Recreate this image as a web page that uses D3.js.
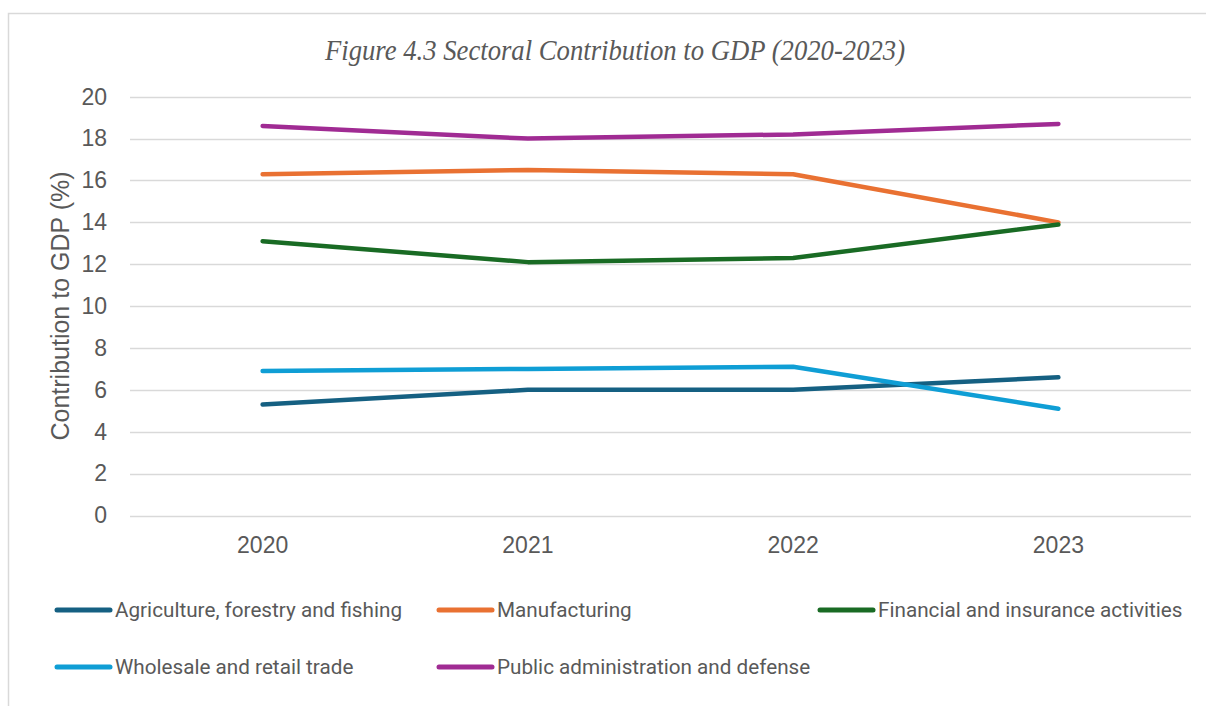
<!DOCTYPE html>
<html>
<meta charset="utf-8">
<title>sectoral contribution</title>
<style>
html,body{margin:0;background:#fff;}
text{fill:#595959;}
</style>
<script src="https://d3js.org/d3.v7.min.js"></script>
<body>
<script>
var years = ["2020", "2021", "2022", "2023"];
var sectors = ["Agriculture, forestry and fishing", "Manufacturing", "Financial and insurance activities",
               "Wholesale and retail trade", "Public administration and defense"];
var colors = ["#156082", "#E97132", "#196B24", "#0F9ED5", "#A02B93"];
var agriculture = [5.3, 6.0, 6.0, 6.6];
var manufacturing = [16.3, 16.5, 16.3, 14.0];
var financial = [13.1, 12.1, 12.3, 13.9];
var wholesale = [6.9, 7.0, 7.1, 5.1];
var publicAdmin = [18.6, 18.0, 18.2, 18.7];
var yTicks = [0, 2, 4, 6, 8, 10, 12, 14, 16, 18, 20];

var series = [agriculture, manufacturing, financial, wholesale, publicAdmin];
var width = 1206, height = 706;

var svg = d3.select("body").append("svg")
    .attr("width", width)
    .attr("height", height);

// chart frame
svg.append("rect")
    .attr("x", 8.5).attr("y", 13.5)
    .attr("width", 1210).attr("height", 710)
    .attr("fill", "none")
    .attr("stroke", "#d9d9d9")
    .attr("stroke-width", 1.5);

var x = d3.scaleBand().domain(years).range([130, 1191]);
var y = d3.scaleLinear().domain([0, 20]).range([515.5, 96.7]);

svg.append("text")
    .attr("transform", "translate(615,60) scale(0.92,1)")
    .attr("text-anchor", "middle")
    .style("font", "italic 29px 'Liberation Serif', 'DejaVu Serif', serif")
    .text("Figure 4.3 Sectoral Contribution to GDP (2020-2023)");

// gridlines
svg.append("g").selectAll("line")
    .data(yTicks)
  .enter().append("line")
    .attr("x1", 130).attr("x2", 1191)
    .attr("y1", function(d){ return Math.round(y(d)) + 0.5; })
    .attr("y2", function(d){ return Math.round(y(d)) + 0.5; })
    .attr("stroke", "#d9d9d9")
    .attr("stroke-width", 1.5);

var yAxis = svg.append("g")
    .attr("transform", "translate(107,0)")
    .call(d3.axisLeft(y).tickValues(yTicks).tickSize(0).tickPadding(0));
yAxis.select(".domain").remove();
yAxis.selectAll("text")
    .style("font", "23px 'Liberation Sans', Arial, sans-serif")
    .attr("fill", "#595959");

var xAxis = svg.append("g")
    .attr("transform", "translate(0,537)")
    .call(d3.axisBottom(x).tickSize(0).tickPadding(0));
xAxis.select(".domain").remove();
xAxis.selectAll("text")
    .attr("dy", "0.71em")
    .style("font", "23px 'Liberation Sans', Arial, sans-serif")
    .attr("fill", "#595959");

svg.append("text")
    .attr("transform", "translate(60,306) rotate(-90)")
    .attr("text-anchor", "middle")
    .attr("dy", "0.35em")
    .style("font", "25px 'Liberation Sans', Arial, sans-serif")
    .text("Contribution to GDP (%)");

var line = d3.line()
    .x(function(d, i){ return x(years[i]) + x.bandwidth() / 2; })
    .y(function(d){ return y(d); });

svg.append("g").selectAll("path")
    .data(series)
  .enter().append("path")
    .attr("d", line)
    .attr("fill", "none")
    .attr("stroke", function(d, i){ return colors[i]; })
    .attr("stroke-width", 4.5)
    .attr("stroke-linecap", "round")
    .attr("stroke-linejoin", "round");

// legend
var legendPos = [[57, 610], [439, 610], [820, 610], [57, 667], [439, 667]];
var legend = svg.append("g").selectAll("g")
    .data(sectors)
  .enter().append("g")
    .attr("transform", function(d, i){ return "translate(" + legendPos[i][0] + "," + legendPos[i][1] + ")"; });
legend.append("line")
    .attr("x1", 0).attr("x2", 53)
    .attr("stroke", function(d, i){ return colors[i]; })
    .attr("stroke-width", 5)
    .attr("stroke-linecap", "round");
legend.append("text")
    .attr("x", 58)
    .attr("dy", "0.35em")
    .style("font", "20.7px Roboto, sans-serif")
    .text(function(d){ return d; });
</script>
</body>
</html>
